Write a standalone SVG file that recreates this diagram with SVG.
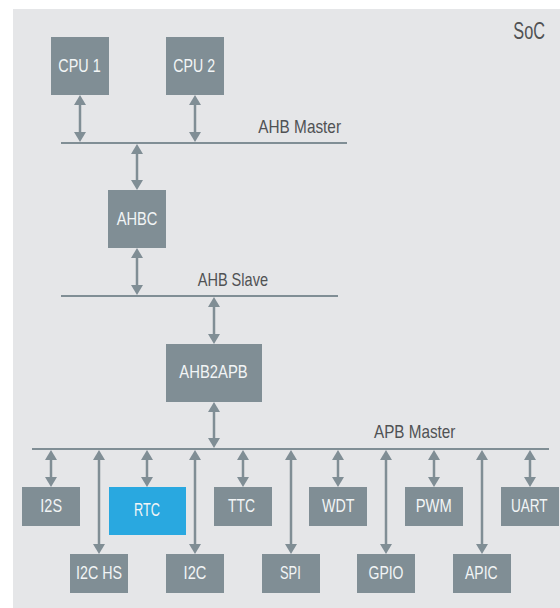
<svg xmlns="http://www.w3.org/2000/svg" width="560" height="608" viewBox="0 0 560 608">
<style>
.bg{fill:#e5e6e8}
.box{fill:#808e95}
.rtc{fill:#29a8e0}
.bus{stroke:#808e95;stroke-width:2;fill:none}
.arr{stroke:#808e95;stroke-width:2.5;fill:none;marker-start:url(#ah);marker-end:url(#ah)}
text{font-family:"Liberation Sans Narrow","Liberation Sans",Arial,sans-serif;font-size:18.5px}
.bt{fill:#f2f5f6;text-anchor:middle}
.lt{fill:#505254}
</style>
<defs>
<marker id="ah" viewBox="0 0 10 12" refX="0" refY="6" markerWidth="10" markerHeight="12" markerUnits="userSpaceOnUse" orient="auto-start-reverse">
<path d="M0,0 L10,6 L0,12 z" fill="#808e95"/>
</marker>
</defs>
<rect class="bg" x="13" y="9" width="547" height="599"/>
<text id="soc-label" class="lt" x="513.3" y="38.7" style="font-size:23px" textLength="31.7" lengthAdjust="spacingAndGlyphs">SoC</text>

<g id="connectors">
<line id="ahb-master-bus" class="bus" x1="61" y1="143" x2="347" y2="143"/>
<line id="ahb-slave-bus" class="bus" x1="61" y1="296" x2="338" y2="296"/>
<line id="apb-master-bus" class="bus" x1="32" y1="449" x2="549" y2="449"/>
<line class="arr" x1="80" y1="105" x2="80" y2="132"/>
<line class="arr" x1="195" y1="105" x2="195" y2="132"/>
<line class="arr" x1="137" y1="154" x2="137" y2="180"/>
<line class="arr" x1="137" y1="258" x2="137" y2="285"/>
<line class="arr" x1="214" y1="307" x2="214" y2="334"/>
<line class="arr" x1="214" y1="412" x2="214" y2="438"/>
<line class="arr" x1="51" y1="460" x2="51" y2="477"/>
<line class="arr" x1="99" y1="460" x2="99" y2="544"/>
<line class="arr" x1="147" y1="460" x2="147" y2="477"/>
<line class="arr" x1="195" y1="460" x2="195" y2="544"/>
<line class="arr" x1="243" y1="460" x2="243" y2="477"/>
<line class="arr" x1="291" y1="460" x2="291" y2="544"/>
<line class="arr" x1="338" y1="460" x2="338" y2="477"/>
<line class="arr" x1="386" y1="460" x2="386" y2="544"/>
<line class="arr" x1="434" y1="460" x2="434" y2="477"/>
<line class="arr" x1="482" y1="460" x2="482" y2="544"/>
<line class="arr" x1="530" y1="460" x2="530" y2="477"/>
<text class="lt" x="258.3" y="133.3" textLength="82.7" lengthAdjust="spacingAndGlyphs">AHB Master</text>
<text class="lt" x="197.7" y="286" textLength="70.3" lengthAdjust="spacingAndGlyphs">AHB Slave</text>
<text class="lt" x="374" y="438.3" textLength="81.4" lengthAdjust="spacingAndGlyphs">APB Master</text>
</g>

<g id="cpu1"><rect class="box" x="51" y="37" width="58" height="58"/><text class="bt" x="79.5" y="72.3" textLength="42.4" lengthAdjust="spacingAndGlyphs">CPU 1</text></g>
<g id="cpu2"><rect class="box" x="166" y="37" width="58" height="58"/><text class="bt" x="194.2" y="72.3" textLength="41.7" lengthAdjust="spacingAndGlyphs">CPU 2</text></g>
<g id="ahbc"><rect class="box" x="108" y="190" width="58" height="58"/><text class="bt" x="137" y="225" textLength="40.7" lengthAdjust="spacingAndGlyphs">AHBC</text></g>
<g id="ahb2apb"><rect class="box" x="166" y="344" width="96" height="58"/><text class="bt" x="213.5" y="378.3" textLength="68.3" lengthAdjust="spacingAndGlyphs">AHB2APB</text></g>

<g id="i2s"><rect class="box" x="22" y="487" width="58" height="39"/><text class="bt" x="51.2" y="511.7" textLength="21.7" lengthAdjust="spacingAndGlyphs">I2S</text></g>
<g id="rtc"><rect class="rtc" x="109" y="487" width="77" height="48"/><text class="bt" x="147" y="515.7" textLength="26" lengthAdjust="spacingAndGlyphs">RTC</text></g>
<g id="ttc"><rect class="box" x="214" y="487" width="58" height="39"/><text class="bt" x="241.5" y="511.7" textLength="27" lengthAdjust="spacingAndGlyphs">TTC</text></g>
<g id="wdt"><rect class="box" x="309" y="487" width="58" height="39"/><text class="bt" x="338.3" y="511.7" textLength="32.5" lengthAdjust="spacingAndGlyphs">WDT</text></g>
<g id="pwm"><rect class="box" x="405" y="487" width="58" height="39"/><text class="bt" x="433.7" y="511.7" textLength="36" lengthAdjust="spacingAndGlyphs">PWM</text></g>
<g id="uart"><rect class="box" x="501" y="487" width="58" height="39"/><text class="bt" x="529.3" y="511.7" textLength="36.7" lengthAdjust="spacingAndGlyphs">UART</text></g>

<g id="i2chs"><rect class="box" x="70" y="554" width="58" height="39"/><text class="bt" x="99" y="578.7" textLength="46" lengthAdjust="spacingAndGlyphs">I2C HS</text></g>
<g id="i2c"><rect class="box" x="166" y="554" width="58" height="39"/><text class="bt" x="195" y="578.7" textLength="22.8" lengthAdjust="spacingAndGlyphs">I2C</text></g>
<g id="spi"><rect class="box" x="262" y="554" width="58" height="39"/><text class="bt" x="290.4" y="578.7" textLength="20.7" lengthAdjust="spacingAndGlyphs">SPI</text></g>
<g id="gpio"><rect class="box" x="357" y="554" width="58" height="39"/><text class="bt" x="386" y="578.7" textLength="35" lengthAdjust="spacingAndGlyphs">GPIO</text></g>
<g id="apic"><rect class="box" x="453" y="554" width="58" height="39"/><text class="bt" x="481.3" y="578.7" textLength="32.7" lengthAdjust="spacingAndGlyphs">APIC</text></g>
</svg>
